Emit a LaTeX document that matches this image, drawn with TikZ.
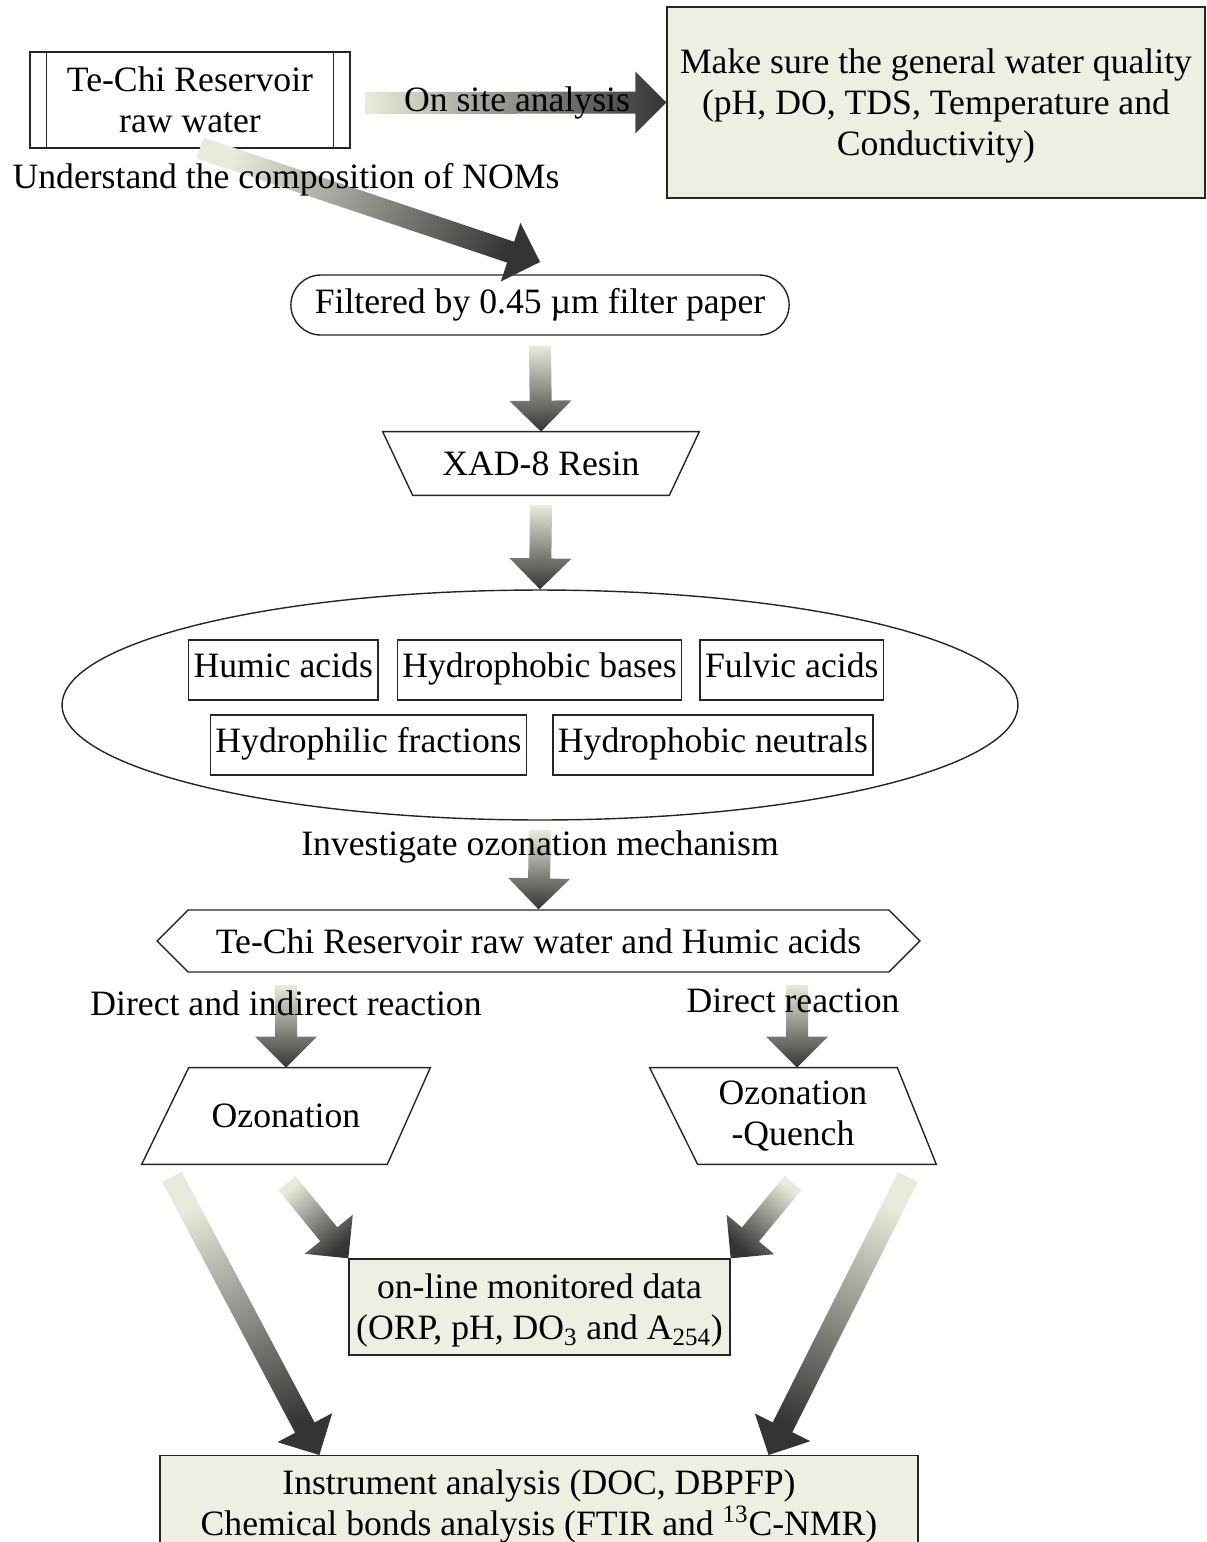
\documentclass[tikz,border=0pt]{standalone}
\usepackage{fontspec}
\setmainfont{Liberation Serif}
\usetikzlibrary{calc,positioning,shapes.geometric,shapes.misc,shapes.symbols}

\definecolor{boxfill}{RGB}{238,238,226}
\definecolor{arrlight}{RGB}{234,234,220}
\definecolor{arrdark}{RGB}{52,52,52}

% shaded block arrow from #1 (tail) to #2 (tip)
\newcommand{\fatarrow}[2]{%
  \path (#1) coordinate (fatT) (#2) coordinate (fatH);
  \pgfmathanglebetweenpoints{\pgfpointanchor{fatT}{center}}{\pgfpointanchor{fatH}{center}}%
  \pgfmathsetmacro{\fatang}{\pgfmathresult-90}%
  \shade[top color=arrdark, bottom color=arrlight, shading angle=\fatang]
    ($(fatT)!0.22cm!90:(fatH)$)
    -- ($(fatH)!0.62cm!(fatT)!0.22cm!-90:(fatT)$)
    -- ($(fatH)!0.62cm!(fatT)!0.62cm!-90:(fatT)$)
    -- (fatH)
    -- ($(fatH)!0.62cm!(fatT)!0.62cm!90:(fatT)$)
    -- ($(fatH)!0.62cm!(fatT)!0.22cm!90:(fatT)$)
    -- ($(fatT)!0.22cm!-90:(fatH)$) -- cycle;
}

\begin{document}
\begin{tikzpicture}[
    x=0.02cm, y=-0.02cm,
    every node/.style={font=\fontsize{20.3}{23.3}\selectfont, align=center},
    outline/.style={draw=black!85, line width=0.8pt},
    procbox/.style={outline, rectangle, inner sep=0pt},
    greybox/.style={outline, rectangle, fill=boxfill, inner sep=0pt, text depth=0pt},
    fracbox/.style={outline, rectangle, inner xsep=0.1cm, minimum height=1.2cm,
                    text height=1.05em, text depth=0.2em},
    slantbox/.style={rectangle, inner sep=0pt},
    tag/.style={inner sep=1pt}
  ]
  \useasboundingbox (0,0) rectangle (1207,1542);

  % source and on site check
  \node[procbox, minimum width=6.4cm, minimum height=1.92cm] (raw) at (190,100) {Te-Chi Reservoir\\raw water};
  \draw[outline] ($(raw.north west)+(17,0)$) -- ($(raw.south west)+(17,0)$);
  \draw[outline] ($(raw.north east)+(-17,0)$) -- ($(raw.south east)+(-17,0)$);
  \node[greybox, minimum width=10.76cm, minimum height=3.82cm] (qual) at (936,102.5)
    {Make sure the general water quality\\(pH, DO, TDS, Temperature and\\Conductivity)};

  % pretreatment
  \node[outline, rounded rectangle, minimum width=10.2cm, minimum height=1.2cm] (filt) at (540,305)
    {Filtered by 0.45 µm filter paper};
  \node[slantbox, minimum width=6.32cm, minimum height=1.26cm] (xad) at (541,463.5) {XAD-8 Resin};
  \draw[outline] (xad.north west) -- (xad.north east) -- ($(xad.south east)+(-30,0)$)
    -- ($(xad.south west)+(30,0)$) -- cycle;

  % fractions
  \node[outline, ellipse, minimum width=19.12cm, minimum height=4.6cm] (frac) at (540,705) {};
  \node[fracbox] (hpob) at (539.5,670) {Hydrophobic bases};
  \node[fracbox, left=0.36cm of hpob] (humic) {Humic acids};
  \node[fracbox, right=0.34cm of hpob] (fulvic) {Fulvic acids};
  \node[fracbox] (hphil) at (368.5,745) {Hydrophilic fractions};
  \node[fracbox, right=0.5cm of hphil] (neutr) {Hydrophobic neutrals};

  % ozonation
  \node[outline, signal, signal to=west and east, signal pointer angle=90,
        minimum width=15.26cm, minimum height=1.24cm] (mix) at (538.5,941)
    {Te-Chi Reservoir raw water and Humic acids};
  \node[slantbox, minimum width=5.76cm, minimum height=1.92cm] (ozo) at (286,1116) {Ozonation};
  \draw[outline] (ozo.south west) -- ($(ozo.north west)+(47,0)$) -- (ozo.north east)
    -- ($(ozo.south east)+(-43,0)$) -- cycle;
  \node[slantbox, minimum width=5.72cm, minimum height=1.92cm] (quench) at (793,1116) {Ozonation\\-Quench};
  \draw[outline] (quench.north west) -- ($(quench.north east)+(-39,0)$) -- (quench.south east)
    -- ($(quench.south west)+(48,0)$) -- cycle;

  % results
  \node[greybox, minimum width=7.62cm, minimum height=1.92cm] (mon) at (539.5,1307)
    {on-line monitored data\\(ORP, pH, DO\textsubscript{3} and A\textsubscript{254})};
  \node[greybox, minimum width=15.16cm, minimum height=1.96cm, text depth=0.24em, anchor=north] (instr) at (539,1455)
    {Instrument analysis (DOC, DBPFP)\\Chemical bonds analysis (FTIR and \textsuperscript{13}C-NMR)};

  % arrows
  \coordinate (st) at (365,103);
  \coordinate (nt) at (200,148);
  \coordinate (it) at (540,830);
  \coordinate (oz1) at (286,985);
  \coordinate (qz1) at (797,985);
  \coordinate (ol) at (172,1177);
  \coordinate (os) at (287,1183);
  \coordinate (qs) at (793,1183);
  \coordinate (ql) at (908,1177);
  \fatarrow{st}{qual.west}
  \fatarrow{nt}{540,262}
  \fatarrow{$(filt.south)+(0,10)$}{xad.north}
  \fatarrow{$(xad.south)+(0,10)$}{frac.north}
  \fatarrow{it}{mix.north}
  \fatarrow{oz1}{oz1 |- ozo.north}
  \fatarrow{qz1}{qz1 |- quench.north}
  \fatarrow{ol}{$(instr.north west)+(160,0)$}
  \fatarrow{os}{mon.north west}
  \fatarrow{qs}{mon.north east}
  \fatarrow{ql}{$(instr.north east)+(-150,0)$}

  \node[tag] (lblsite) at (517,103) {On site analysis};
  \node[tag] (lblnom) at (286,180) {Understand the composition of NOMs};
  \node[tag] (lblozo) at (540,847) {Investigate ozonation mechanism};
  \node[tag] (lbldir) at (286,1003) {Direct and indirect reaction};
  \node[tag] (lbldr) at (793,1001) {Direct reaction};
\end{tikzpicture}
\end{document}
